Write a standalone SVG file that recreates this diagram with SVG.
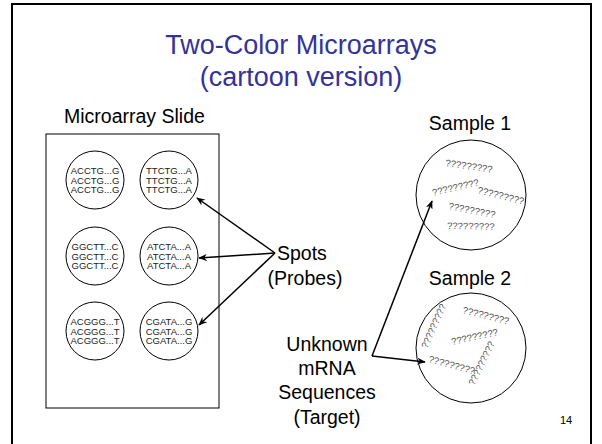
<svg xmlns="http://www.w3.org/2000/svg" width="602" height="444" viewBox="0 0 602 444">
<style>
text{font-family:"Liberation Sans",Arial,sans-serif;fill:#000}
.title{font-size:27px;fill:#333399;text-anchor:middle}
.lbl{font-size:19.5px;text-anchor:middle}
.seq{font-size:9.5px;text-anchor:middle;fill:#222}
.q{font-size:9.5px;fill:#555}
.spot{fill:#fff;stroke:#000;stroke-width:1}
.conn{stroke:#000;stroke-width:1.5;fill:none;marker-end:url(#ah)}
</style>
<defs>
<marker id="ah" viewBox="0 0 10 8" refX="9" refY="4" markerWidth="9" markerHeight="7" markerUnits="userSpaceOnUse" orient="auto">
<path d="M0,0 L10,4 L0,8 L3,4 z" fill="#000"/>
</marker>
</defs>
<rect x="0" y="0" width="602" height="444" fill="#fff"/>
<rect id="frame" x="12" y="4" width="579" height="460" fill="none" stroke="#000" stroke-width="2"/>
<g id="title">
<text class="title" x="301" y="54">Two-Color Microarrays</text>
<text class="title" x="301" y="86">(cartoon version)</text>
</g>
<g id="slide">
<text x="64" y="123" style="font-size:19.5px">Microarray Slide</text>
<rect x="46" y="134" width="173" height="274" fill="#fff" stroke="#000" stroke-width="1"/>
</g>
<g id="spot1"><circle class="spot" cx="95" cy="180" r="29"/><text class="seq" x="95" y="174">ACCTG...G</text><text class="seq" x="95" y="183.5">ACCTG...G</text><text class="seq" x="95" y="193">ACCTG...G</text></g>
<g id="spot2"><circle class="spot" cx="169" cy="180" r="29"/><text class="seq" x="169" y="174">TTCTG...A</text><text class="seq" x="169" y="183.5">TTCTG...A</text><text class="seq" x="169" y="193">TTCTG...A</text></g>
<g id="spot3"><circle class="spot" cx="95" cy="256" r="29"/><text class="seq" x="95" y="250">GGCTT...C</text><text class="seq" x="95" y="259.5">GGCTT...C</text><text class="seq" x="95" y="269">GGCTT...C</text></g>
<g id="spot4"><circle class="spot" cx="169" cy="256" r="29"/><text class="seq" x="169" y="250">ATCTA...A</text><text class="seq" x="169" y="259.5">ATCTA...A</text><text class="seq" x="169" y="269">ATCTA...A</text></g>
<g id="spot5"><circle class="spot" cx="95" cy="331" r="29"/><text class="seq" x="95" y="325">ACGGG...T</text><text class="seq" x="95" y="334.5">ACGGG...T</text><text class="seq" x="95" y="344">ACGGG...T</text></g>
<g id="spot6"><circle class="spot" cx="169" cy="331" r="29"/><text class="seq" x="169" y="325">CGATA...G</text><text class="seq" x="169" y="334.5">CGATA...G</text><text class="seq" x="169" y="344">CGATA...G</text></g>
<g id="spots-label">
<text x="277" y="260" style="font-size:19.5px">Spots</text>
<text class="lbl" x="305" y="285">(Probes)</text>
</g>
<g id="target-label">
<text class="lbl" x="327" y="351">Unknown</text>
<text class="lbl" x="327" y="375">mRNA</text>
<text class="lbl" x="327" y="399">Sequences</text>
<text class="lbl" x="327" y="424">(Target)</text>
</g>
<g id="sample1">
<text class="lbl" x="470" y="130">Sample 1</text>
<circle class="spot" cx="471" cy="195" r="55"/>
<text class="q" transform="translate(445,166) rotate(8)">?????????</text>
<text class="q" transform="translate(433,196) rotate(-13)">?????????</text>
<text class="q" transform="translate(477,193) rotate(14)">?????????</text>
<text class="q" transform="translate(448,209) rotate(11)">?????????</text>
<text class="q" transform="translate(447,229) rotate(1)">?????????</text>
</g>
<g id="sample2">
<text class="lbl" x="470" y="285">Sample 2</text>
<circle class="spot" cx="471" cy="348" r="55"/>
<text class="q" transform="translate(427,349) rotate(-66)">?????????</text>
<text class="q" transform="translate(462,313) rotate(14)">?????????</text>
<text class="q" transform="translate(452,345) rotate(-12)">?????????</text>
<text class="q" transform="translate(428,362) rotate(15)">?????????</text>
<text class="q" transform="translate(474,386) rotate(-64)">?????????</text>
</g>
<g id="connectors">
<line class="conn" x1="275" y1="253" x2="197" y2="198"/>
<line class="conn" x1="275" y1="253" x2="199" y2="258"/>
<line class="conn" x1="275" y1="253" x2="199" y2="325"/>
<line class="conn" x1="372" y1="356" x2="432" y2="201"/>
<line class="conn" x1="372" y1="356" x2="425" y2="362"/>
</g>
<text x="566" y="424" style="font-size:11px;text-anchor:middle">14</text>
</svg>
